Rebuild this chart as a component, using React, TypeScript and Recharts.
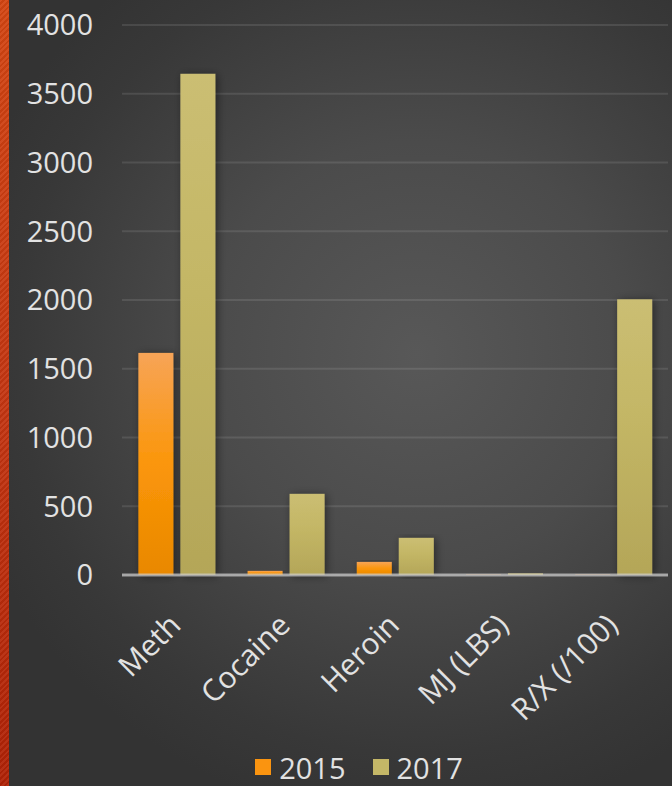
import React from 'react';
import { BarChart, Bar, XAxis, YAxis, CartesianGrid, Legend, ReferenceLine } from 'recharts';

const categories = ['Meth', 'Cocaine', 'Heroin', 'MJ (LBS)', 'R/X (/100)'];
const values2015 = [1615, 30, 95, 3, 3];
const values2017 = [3645, 590, 270, 12, 2005];
const yTicks = [0, 500, 1000, 1500, 2000, 2500, 3000, 3500, 4000];
const seriesNames = ['2015', '2017'];

const data = categories.map((c, i) => ({ name: c, v2015: values2015[i], v2017: values2017[i] }));

const FONT = "'Open Sans', sans-serif";

const XTick = (props: any) => {
  const { x, y, payload } = props;
  return (
    <text
      x={x + 6}
      y={y + 44}
      transform={`rotate(-45, ${x + 6}, ${y + 44})`}
      textAnchor="end"
      fill="#e2e2e2"
      fontSize={30}
      fontFamily={FONT}
    >
      {payload.value}
    </text>
  );
};

const ShadowBar = (props: any) => {
  const { x, y, width, height, fill } = props;
  if (height <= 0 || width <= 0) return null;
  return <rect x={x} y={y} width={width} height={height} fill={fill} filter="url(#barShadow)" />;
};

const LegendContent = () => {
  const colors = ['#fa9410', '#c4b767'];
  return (
    <div style={{ display: 'flex', justifyContent: 'center', alignItems: 'center', fontFamily: FONT, fontSize: 29, color: '#e2e2e2', height: 44, paddingLeft: 50, paddingTop: 6, boxSizing: 'border-box' }}>
      {seriesNames.map((n, i) => (
        <div key={n} style={{ display: 'flex', alignItems: 'center', marginRight: i === 0 ? 27 : 0 }}>
          <span style={{ display: 'inline-block', width: 16, height: 16, background: colors[i], marginRight: 8 }} />
          <span>{n}</span>
        </div>
      ))}
    </div>
  );
};

export default function App() {
  return (
    <div
      style={{
        position: 'absolute',
        left: 0,
        top: 0,
        width: 672,
        height: 786,
        overflow: 'hidden',
        background: 'radial-gradient(ellipse 70% 60% at 62% 45%, #585858 0%, #4b4b4b 45%, #383838 85%, #333333 100%)',
      }}
    >
      <div
        style={{
          position: 'absolute',
          left: 0,
          top: 0,
          width: 9,
          height: 786,
          background:
            'repeating-linear-gradient(135deg, rgba(255,255,255,0.06) 0 2px, rgba(0,0,0,0.05) 2px 4px), linear-gradient(180deg, #d34512 0%, #c43612 50%, #b02206 100%)',
        }}
      />
      <BarChart
        width={672}
        height={786}
        data={data}
        margin={{ top: 25, right: 4, left: 0, bottom: 0 }}
        barCategoryGap="15%"
        barGap={7}
      >
        <defs>
          <linearGradient id="g2015" x1="0" y1="0" x2="0" y2="1">
            <stop offset="0%" stopColor="#f7a457" />
            <stop offset="50%" stopColor="#fb9609" />
            <stop offset="100%" stopColor="#e98800" />
          </linearGradient>
          <linearGradient id="g2017" x1="0" y1="0" x2="0" y2="1">
            <stop offset="0%" stopColor="#cbbe73" />
            <stop offset="40%" stopColor="#c4b766" />
            <stop offset="100%" stopColor="#b4a658" />
          </linearGradient>
          <filter id="barShadow" x="-40%" y="-10%" width="180%" height="120%">
            <feDropShadow dx="2" dy="1" stdDeviation="4" floodColor="#000" floodOpacity="0.45" />
          </filter>
        </defs>
        <CartesianGrid vertical={false} stroke="rgba(255,255,255,0.1)" strokeWidth={2} />
        <XAxis
          dataKey="name"
          interval={0}
          axisLine={false}
          tickLine={false}
          height={167}
          tick={<XTick />}
        />
        <YAxis
          domain={[0, 4000]}
          ticks={yTicks}
          width={122}
          axisLine={false}
          tickLine={false}
          tickSize={0}
          tickMargin={29}
          tick={{ fill: '#e2e2e2', fontSize: 29, fontFamily: FONT }}
        />
        <Legend verticalAlign="bottom" height={44} content={<LegendContent />} />
        <Bar dataKey="v2015" name="2015" fill="url(#g2015)" isAnimationActive={false} shape={<ShadowBar />} />
        <Bar dataKey="v2017" name="2017" fill="url(#g2017)" isAnimationActive={false} shape={<ShadowBar />} />
        <ReferenceLine y={0} stroke="rgba(205,205,205,0.7)" strokeWidth={3} />
      </BarChart>
    </div>
  );
}
